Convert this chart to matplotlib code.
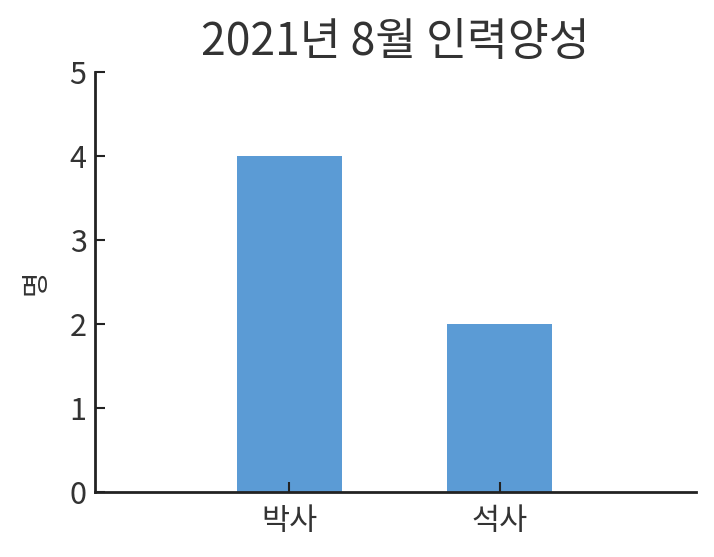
import matplotlib
matplotlib.use("Agg")
import matplotlib.pyplot as plt

categories = ["박사", "석사"]
values = [4, 2]
title = "2021년 8월 인력양성"
ylabel = "명"

plt.rcParams['font.family'] = ['Noto Sans CJK KR', 'DejaVu Sans']

fig = plt.figure(figsize=(7.14, 5.57), dpi=100)
ax = fig.add_axes([95/714, 1 - 492/557, 601/714, 420/557])

x = list(range(len(categories)))
ax.bar(x, values, width=0.5, color="#5b9bd5")
ax.set_xticks(x)
ax.set_xticklabels(categories)
ax.set_xlim(-0.925, 1.935)
ax.set_ylim(0, 5)
ax.set_yticks([0, 1, 2, 3, 4, 5])

for s in ["top", "right"]:
    ax.spines[s].set_visible(False)
for s in ["left", "bottom"]:
    ax.spines[s].set_color("#222222")
    ax.spines[s].set_linewidth(2)

ax.tick_params(axis="both", direction="in", length=7, width=1.5, color="#222222",
               labelsize=22, labelcolor="#333333")
ax.tick_params(axis="x", pad=10)
ax.tick_params(axis="y", pad=6)
ax.set_title(title, fontsize=32, color="#333333", pad=12)
ax.set_ylabel(ylabel, fontsize=20, color="#333333", labelpad=14)

fig.savefig("out.png", dpi=100)
